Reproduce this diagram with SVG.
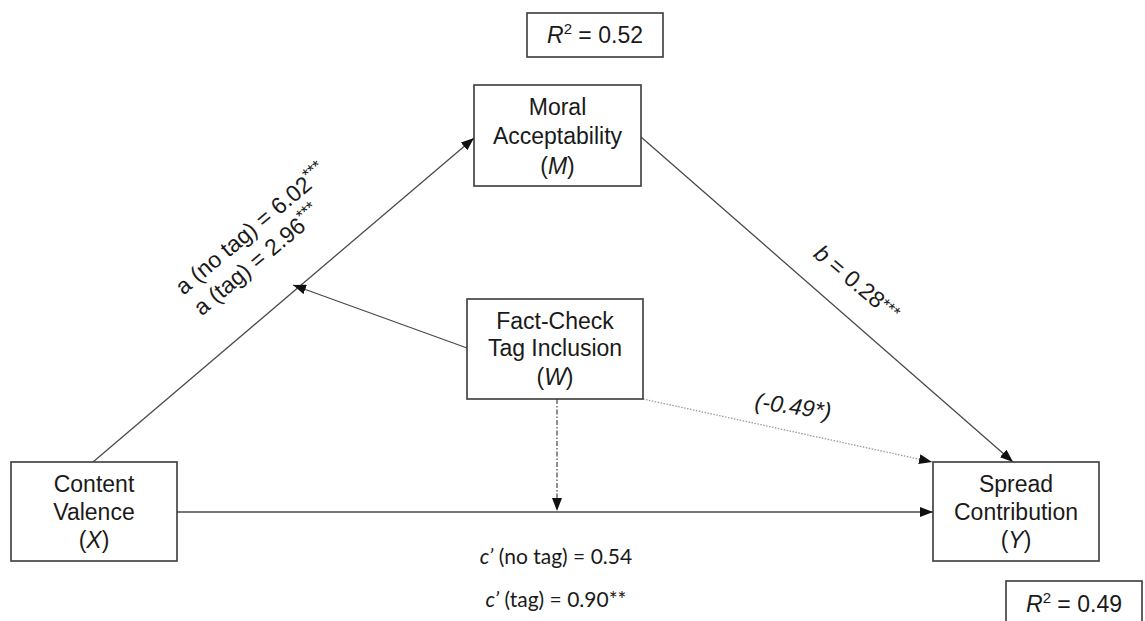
<svg xmlns="http://www.w3.org/2000/svg" width="1145" height="621" viewBox="0 0 1145 621">
  <defs>
    <style>
      .box { fill: #ffffff; stroke: #3a3a3a; stroke-width: 1.6; }
      .t { font-family: "Liberation Sans", Arial, sans-serif; font-size: 23px; fill: #1a1a1a; }
      .c { font-family: "Lato", "Liberation Sans", sans-serif; font-size: 21px; fill: #1a1a1a; }
      .ln { stroke: #4a4a4a; stroke-width: 1.3; fill: none; }
      .dot { stroke: #9a9a9a; stroke-width: 1.3; fill: none; stroke-dasharray: 1.5 1.5; }
      .dd { stroke: #555; stroke-width: 1.3; fill: none; stroke-dasharray: 5 2 1.5 2; }
      .sup { font-size: 17px; }
    </style>
    <marker id="arr" markerUnits="userSpaceOnUse" markerWidth="14" markerHeight="10" refX="13" refY="5" orient="auto">
      <path d="M0,0 L13,5 L0,10 z" fill="#111"/>
    </marker>
  </defs>
  <rect width="1145" height="621" fill="#ffffff"/>

  <g id="connectors">
    <line class="ln" x1="93" y1="462" x2="474" y2="138" marker-end="url(#arr)"/>
    <line class="ln" x1="641" y1="137" x2="1013" y2="462" marker-end="url(#arr)"/>
    <line class="ln" x1="467" y1="348" x2="293" y2="285" marker-end="url(#arr)"/>
    <line class="dot" x1="643" y1="399" x2="932" y2="462" marker-end="url(#arr)"/>
    <line class="dd" x1="557" y1="399" x2="557" y2="511" marker-end="url(#arr)"/>
    <line class="ln" x1="177" y1="512" x2="933" y2="512" marker-end="url(#arr)"/>
  </g>

  <g id="r2-m">
    <rect class="box" x="527" y="13" width="136" height="44"/>
    <text class="t" x="595" y="43" text-anchor="middle"><tspan font-style="italic">R</tspan><tspan font-size="15" dy="-9">2</tspan><tspan dy="9"> = 0.52</tspan></text>
  </g>

  <g id="node-m">
    <rect class="box" x="474" y="85" width="167" height="101"/>
    <text class="t" x="557.5" y="115" text-anchor="middle">Moral</text>
    <text class="t" x="557.5" y="144" text-anchor="middle">Acceptability</text>
    <text class="t" x="557.5" y="174" text-anchor="middle">(<tspan font-style="italic">M</tspan>)</text>
  </g>

  <g id="node-w">
    <rect class="box" x="467" y="299" width="176" height="100"/>
    <text class="t" x="555" y="329" text-anchor="middle">Fact-Check</text>
    <text class="t" x="555" y="356" text-anchor="middle">Tag Inclusion</text>
    <text class="t" x="555" y="385" text-anchor="middle">(<tspan font-style="italic">W</tspan>)</text>
  </g>

  <g id="node-x">
    <rect class="box" x="11" y="462" width="166" height="99"/>
    <text class="t" x="94" y="492" text-anchor="middle">Content</text>
    <text class="t" x="94" y="520" text-anchor="middle">Valence</text>
    <text class="t" x="94" y="548" text-anchor="middle">(<tspan font-style="italic">X</tspan>)</text>
  </g>

  <g id="node-y">
    <rect class="box" x="933" y="462" width="166" height="99"/>
    <text class="t" x="1016" y="492" text-anchor="middle">Spread</text>
    <text class="t" x="1016" y="520" text-anchor="middle">Contribution</text>
    <text class="t" x="1016" y="548" text-anchor="middle">(<tspan font-style="italic">Y</tspan>)</text>
  </g>

  <g id="r2-y">
    <rect class="box" x="1006" y="581" width="136" height="50"/>
    <text class="t" x="1074" y="612" text-anchor="middle"><tspan font-style="italic">R</tspan><tspan font-size="15" dy="-9">2</tspan><tspan dy="9"> = 0.49</tspan></text>
  </g>

  <g id="labels">
    <text class="t" transform="translate(256,235) rotate(-40)" text-anchor="middle">a (no tag) = 6.02<tspan class="sup" dy="-8">***</tspan></text>
    <text class="t" transform="translate(262,266) rotate(-40)" text-anchor="middle">a (tag) = 2.96<tspan class="sup" dy="-8">***</tspan></text>
    <text class="t" transform="translate(852,289) rotate(40)" text-anchor="middle"><tspan font-style="italic">b</tspan> = 0.28<tspan class="sup" dy="-4">***</tspan></text>
    <text class="t" transform="translate(792,414) rotate(8)" text-anchor="middle" font-style="italic">(-0.49*)</text>
    <text class="c" x="556" y="564" text-anchor="middle"><tspan font-style="italic">c’</tspan> (no tag) = 0.54</text>
    <text class="c" x="556" y="607" text-anchor="middle"><tspan font-style="italic">c’</tspan> (tag) = 0.90**</text>
  </g>
</svg>
